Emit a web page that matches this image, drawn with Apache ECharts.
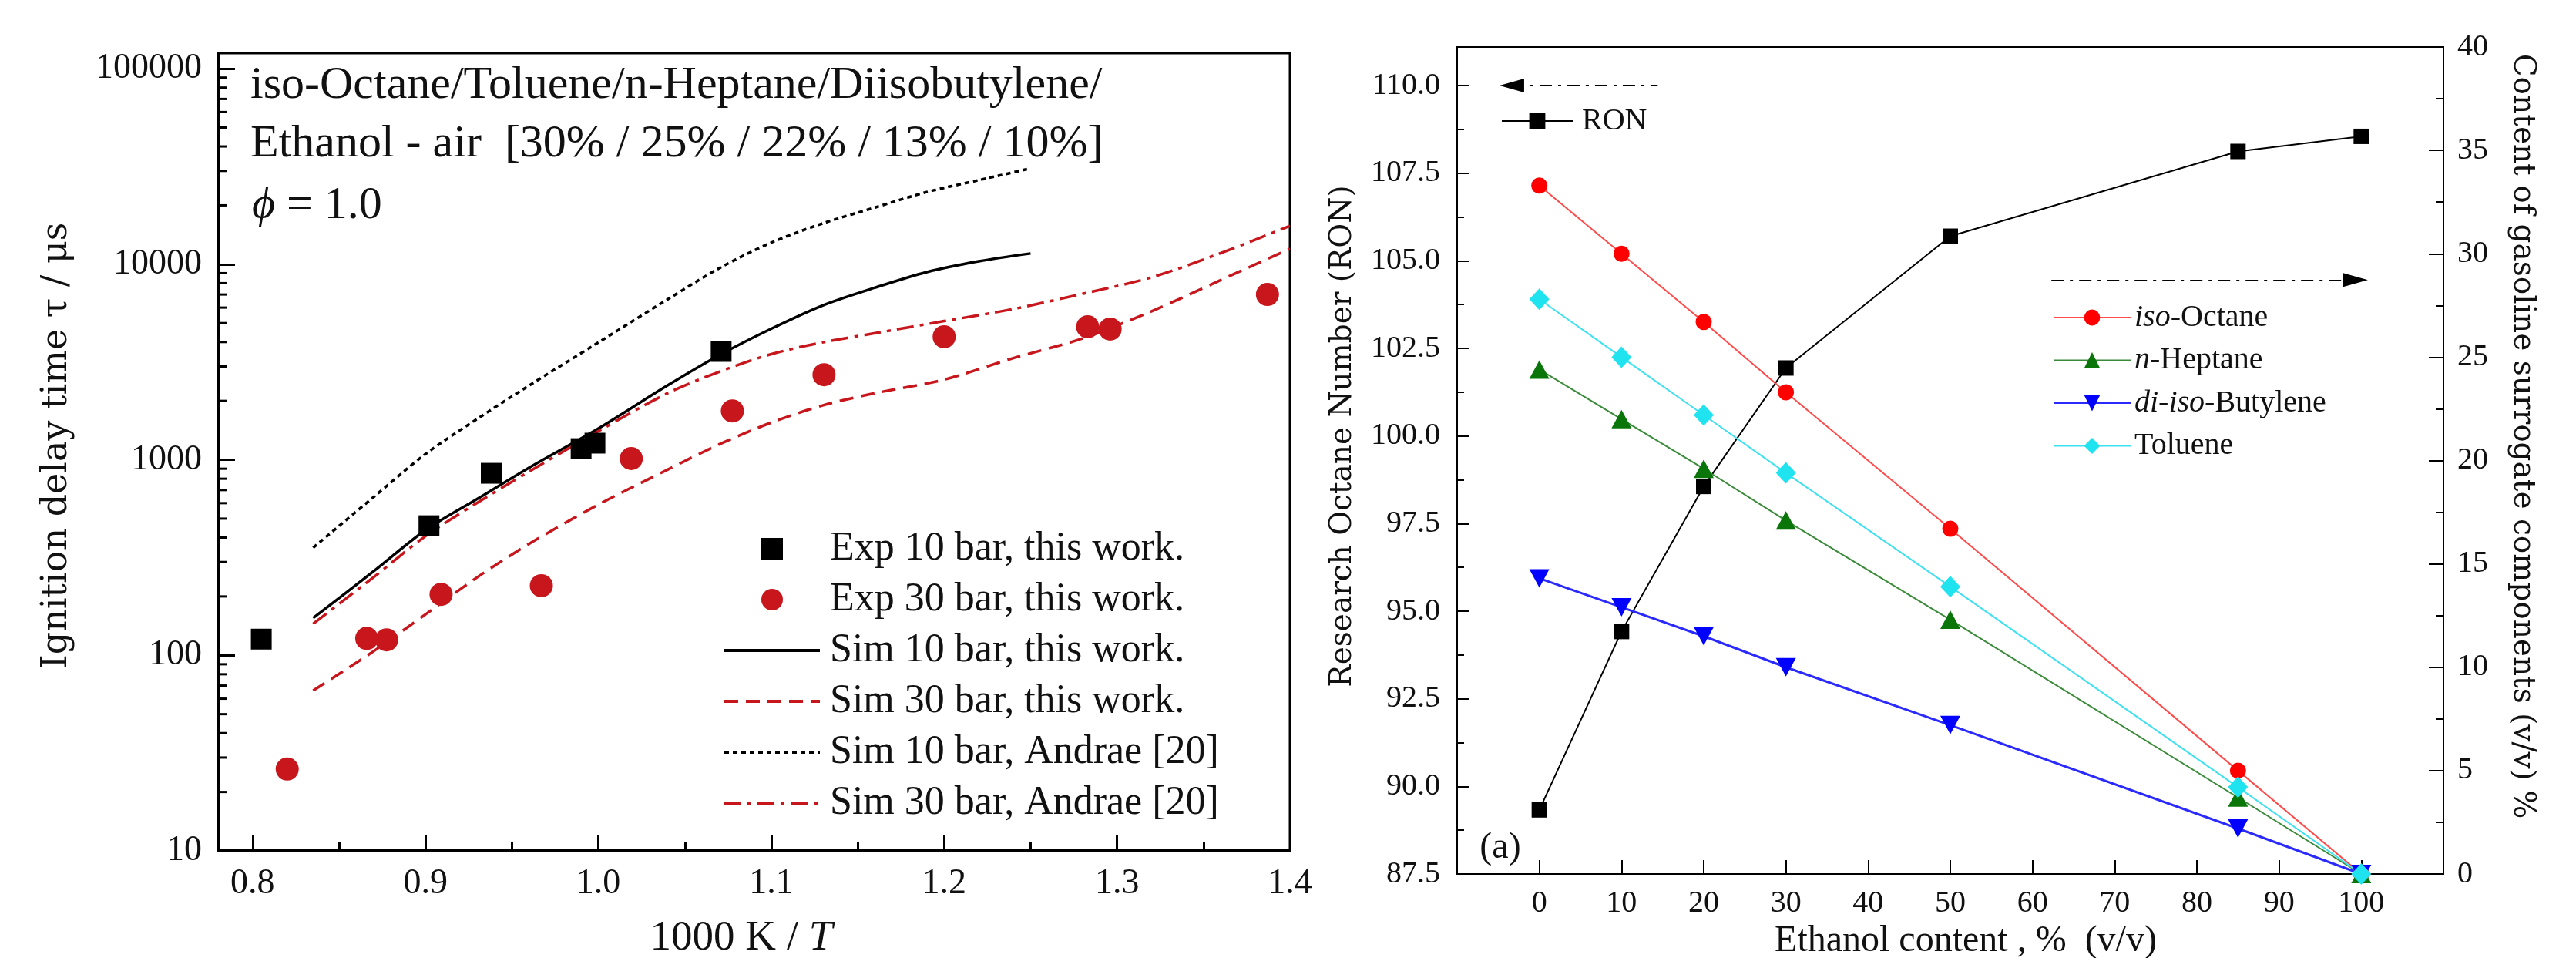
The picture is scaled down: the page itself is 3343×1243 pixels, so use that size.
<!DOCTYPE html>
<html>
<head>
<meta charset="utf-8">
<title>Ignition delay times / RON of ethanol blends</title>
<script src="https://cdn.jsdelivr.net/npm/echarts@6.0.0/dist/echarts.min.js"></script>
<style>
  html, body { margin: 0; padding: 0; background: #fff; }
  #chart { width: 3343px; height: 1243px; }
</style>
</head>
<body>
<div id="chart"></div>
<script>
// ---------- left panel: ignition delay time vs 1000 K / T ----------
var expTenT = [0.805, 0.902, 0.938, 0.990, 0.998, 1.071];
var expTenTau = [121, 460, 853, 1140, 1216, 3580];
var expThirtyT = [0.820, 0.866, 0.8775, 0.909, 0.967, 1.019, 1.0775, 1.1305, 1.200, 1.283, 1.296, 1.387];
var expThirtyTau = [26.2, 122, 120, 205, 227, 1014, 1778, 2723, 4255, 4786, 4660, 7000];

// simulations, 10 bar (end at 1.25)
var simTenT = [0.835, 0.87, 0.90, 0.93, 0.96, 1.00, 1.04, 1.07, 1.10, 1.13, 1.16, 1.19, 1.22, 1.25];
var simTenTau = [155, 269, 437, 631, 912, 1445, 2400, 3430, 4680, 6170, 7590, 9120, 10350, 11350];
var andraeTenTau = [355, 645, 1070, 1620, 2400, 3980, 6610, 9550, 12900, 16200, 19500, 23400, 26900, 30900];

// simulations, 30 bar (run to 1.4)
var simThirtyT = [0.835, 0.87, 0.90, 0.93, 0.96, 1.00, 1.04, 1.07, 1.10, 1.13, 1.16, 1.20, 1.24, 1.28, 1.32, 1.36, 1.40];
var simThirtyTau = [66, 105, 162, 251, 372, 590, 890, 1200, 1550, 1900, 2190, 2570, 3310, 4170, 5750, 8300, 12000];
var andraeThirtyTau = [145, 251, 407, 603, 871, 1400, 2190, 2820, 3470, 3990, 4440, 5120, 5900, 7060, 8570, 11400, 15700];

// log minor ticks on the tau axis
var minorTau = [20, 30, 40, 50, 60, 70, 80, 90,
                200, 300, 400, 500, 600, 700, 800, 900,
                2000, 3000, 4000, 5000, 6000, 7000, 8000, 9000,
                20000, 30000, 40000, 50000, 60000, 70000, 80000, 90000];

var T_MIN = 0.78, T_MAX = 1.4;
var TAU_MIN = 10, TAU_MAX = 120000;

// ---------- right panel: RON and surrogate composition vs ethanol ----------
var ethanol = [0, 10, 20, 30, 50, 85, 100];
var ron = [89.33, 94.42, 98.56, 101.94, 105.70, 108.12, 108.55];
var isoOctane = [33.3, 30.0, 26.7, 23.3, 16.7, 5.0, 0];
var nHeptane = [24.4, 22.0, 19.6, 17.1, 12.3, 3.7, 0];
var diisoButylene = [14.3, 12.9, 11.5, 10.0, 7.2, 2.2, 0];
var toluene = [27.8, 25.0, 22.2, 19.4, 13.9, 4.2, 0];

// axis-pointing arrows (x = ethanol %, y = RON)
var leftArrow = [[-3.35, 110.0], [14.4, 110.0]];
var rightArrow = [[62.3, 104.45], [99.3, 104.45]];

var SERIF = '"Liberation Serif", "Times New Roman", serif';
var WIDE_SERIF = '"DejaVu Serif", serif';
var INK = '#111';
var RED = '#c8161d';
var SQUARE = 'path://M0 0H10V10H0Z';

function pairs(xs, ys) {
    return xs.map(function (x, i) { return [x, ys[i]]; });
}

var componentLabels = {
    'iso-Octane': '{i|iso}-Octane',
    'n-Heptane': '{i|n}-Heptane',
    'di-iso-Butylene': '{i|di}-{i|iso}-Butylene',
    'Toluene': 'Toluene'
};

// line-only legend entries: hide the symbol the line legend icon adds
var noMark = { opacity: 0 };

var chart = echarts.init(document.getElementById('chart'), null, { renderer: 'canvas' });

var option = {
    animation: false,
    backgroundColor: '#fff',
    textStyle: { fontFamily: SERIF, color: INK },
    grid: [
        { left: 283, top: 69, width: 1391, height: 1035, show: true, borderColor: '#000', borderWidth: 3, outerBoundsMode: 'none' },
        { left: 1891, top: 61, width: 1280, height: 1073, show: true, borderColor: '#000', borderWidth: 2, outerBoundsMode: 'none' }
    ],
    xAxis: [
        {
            gridIndex: 0, type: 'value', min: T_MIN, max: T_MAX, splitNumber: 6,
            axisLine: { onZero: false, lineStyle: { color: '#000', width: 4 } },
            axisTick: { inside: true, length: 20, lineStyle: { color: '#000', width: 3 } },
            minorTick: { show: true, splitNumber: 2, length: 11, lineStyle: { color: '#000', width: 3 } },
            splitLine: { show: false },
            axisLabel: {
                margin: 20, fontFamily: SERIF, fontSize: 46, color: INK, showMinLabel: false,
                formatter: function (v) { return v.toFixed(1); }
            },
            name: '1000 K / {i|T}', nameLocation: 'middle', nameGap: 86,
            nameTextStyle: {
                fontFamily: SERIF, fontSize: 55, color: INK, padding: [0, 33, 0, 0],
                rich: { i: { fontFamily: SERIF, fontSize: 55, fontStyle: 'italic', color: INK } }
            }
        },
        {
            gridIndex: 1, type: 'value', min: -10, max: 110, interval: 10,
            axisLine: { onZero: false, lineStyle: { color: '#000', width: 2 } },
            axisTick: { inside: true, length: 18, lineStyle: { color: '#000', width: 2 } },
            splitLine: { show: false },
            axisLabel: { margin: 18, fontFamily: SERIF, fontSize: 40, color: INK, showMinLabel: false, showMaxLabel: false },
            name: 'Ethanol content , %  (v/v)', nameLocation: 'middle', nameGap: 61,
            nameTextStyle: { fontFamily: SERIF, fontSize: 48, color: INK, padding: [0, 0, 0, 40] }
        }
    ],
    yAxis: [
        {
            gridIndex: 0, type: 'log', logBase: 10, min: TAU_MIN, max: TAU_MAX,
            axisLine: { onZero: false, lineStyle: { color: '#000', width: 4 } },
            axisTick: { inside: true, length: 22, lineStyle: { color: '#000', width: 3 } },
            splitLine: { show: false },
            axisLabel: {
                margin: 21, fontFamily: SERIF, fontSize: 46, color: INK, showMaxLabel: false,
                formatter: function (v) { return String(Math.round(v)); }
            },
            name: 'Ignition delay time \u03c4 / \u03bcs', nameLocation: 'middle', nameGap: 186,
            nameTextStyle: { fontFamily: WIDE_SERIF, fontSize: 46, color: INK, padding: [0, 0, 0, 17] }
        },
        {
            gridIndex: 1, type: 'value', position: 'left', min: 87.5, max: 111.1, interval: 2.5,
            axisLine: { onZero: false, lineStyle: { color: '#000', width: 2 } },
            axisTick: { inside: true, length: 16, lineStyle: { color: '#000', width: 2 } },
            minorTick: { show: true, splitNumber: 2, length: 9, lineStyle: { color: '#000', width: 2 } },
            splitLine: { show: false },
            axisLabel: {
                margin: 22, fontFamily: SERIF, fontSize: 40, color: INK, showMaxLabel: false,
                formatter: function (v) { return v.toFixed(1); }
            },
            name: 'Research Octane Number (RON)', nameLocation: 'middle', nameGap: 129,
            nameTextStyle: { fontFamily: WIDE_SERIF, fontSize: 39, color: INK, padding: [0, 0, 0, 63] }
        },
        {
            gridIndex: 1, type: 'value', position: 'right', min: 0, max: 40, interval: 5,
            axisLine: { onZero: false, lineStyle: { color: '#000', width: 2 } },
            axisTick: { inside: true, length: 19, lineStyle: { color: '#000', width: 2 } },
            minorTick: { show: true, splitNumber: 2, length: 10, lineStyle: { color: '#000', width: 2 } },
            splitLine: { show: false },
            axisLabel: { margin: 18, fontFamily: SERIF, fontSize: 40, color: INK },
            name: 'Content of gasoline surrogate components (v/v) %', nameLocation: 'middle', nameGap: 83, nameRotate: -90,
            nameTextStyle: { fontFamily: WIDE_SERIF, fontSize: 39, color: INK, padding: [0, 63, 0, 0] }
        }
    ],
    legend: [
        {
            orient: 'vertical', left: 938, top: 686, itemWidth: 124, itemHeight: 28, itemGap: 14, padding: 0,
            selectedMode: false, symbolKeepAspect: true,
            lineStyle: { width: 4 },
            data: [
                { name: 'Exp 10 bar, this work.', icon: SQUARE },
                { name: 'Exp 30 bar, this work.', icon: 'circle' },
                { name: 'Sim 10 bar, this work.', itemStyle: noMark },
                { name: 'Sim 30 bar, this work.', itemStyle: noMark },
                { name: 'Sim 10 bar, Andrae [20]', itemStyle: noMark },
                { name: 'Sim 30 bar, Andrae [20]', itemStyle: noMark }
            ],
            textStyle: { fontFamily: SERIF, fontSize: 52, color: INK, padding: [0, 0, 0, 8] }
        },
        {
            left: 1948, top: 137, itemWidth: 92, itemHeight: 26, padding: 0, selectedMode: false,
            lineStyle: { width: 2 },
            data: ['RON'],
            textStyle: { fontFamily: SERIF, fontSize: 40, color: INK, padding: [0, 0, 0, 7] }
        },
        {
            orient: 'vertical', left: 2664, top: 392, itemWidth: 100, itemHeight: 26, itemGap: 15.5, padding: 0,
            selectedMode: false,
            lineStyle: { width: 2 },
            data: ['iso-Octane', 'n-Heptane', 'di-iso-Butylene', 'Toluene'],
            formatter: function (name) { return componentLabels[name]; },
            textStyle: {
                fontFamily: SERIF, fontSize: 40, color: INK,
                rich: { i: { fontFamily: SERIF, fontSize: 40, fontStyle: 'italic', color: INK } }
            }
        }
    ],
    graphic: [
        { type: 'text', x: 325, y: 111, style: { text: 'iso-Octane/Toluene/n-Heptane/Diisobutylene/', fontFamily: SERIF, fontSize: 60, fill: INK, verticalAlign: 'middle' } },
        { type: 'text', x: 325, y: 187, style: { text: 'Ethanol - air  [30% / 25% / 22% / 13% / 10%]', fontFamily: SERIF, fontSize: 60, fill: INK, verticalAlign: 'middle' } },
        { type: 'text', x: 327, y: 267, style: {
            text: '{i|\u03d5} = 1.0', fontFamily: SERIF, fontSize: 60, fill: INK, verticalAlign: 'middle',
            rich: { i: { fontFamily: SERIF, fontSize: 58, fontStyle: 'italic', fill: INK } }
        } },
        { type: 'text', x: 1947, y: 1100, style: { text: '(a)', fontFamily: SERIF, fontSize: 48, fill: INK, align: 'center', verticalAlign: 'middle' } }
    ],
    series: [
        {
            name: 'Sim 10 bar, this work.', type: 'line', xAxisIndex: 0, yAxisIndex: 0,
            data: pairs(simTenT, simTenTau), symbol: 'none', smooth: 0.3,
            lineStyle: { color: '#000', width: 3.5, type: 'solid' }, itemStyle: { color: '#000' }, z: 2
        },
        {
            name: 'Sim 30 bar, this work.', type: 'line', xAxisIndex: 0, yAxisIndex: 0,
            data: pairs(simThirtyT, simThirtyTau), symbol: 'none', smooth: 0.3,
            lineStyle: { color: RED, width: 3.5, type: [18, 10] }, itemStyle: { color: RED }, z: 2
        },
        {
            name: 'Sim 10 bar, Andrae [20]', type: 'line', xAxisIndex: 0, yAxisIndex: 0,
            data: pairs(simTenT, andraeTenTau), symbol: 'none', smooth: 0.3,
            lineStyle: { color: '#000', width: 3.5, type: [6, 5] }, itemStyle: { color: '#000' }, z: 2
        },
        {
            name: 'Sim 30 bar, Andrae [20]', type: 'line', xAxisIndex: 0, yAxisIndex: 0,
            data: pairs(simThirtyT, andraeThirtyTau), symbol: 'none', smooth: 0.3,
            lineStyle: { color: RED, width: 3.5, type: [22, 8, 5, 8] }, itemStyle: { color: RED }, z: 2
        },
        {
            name: 'Exp 10 bar, this work.', type: 'scatter', xAxisIndex: 0, yAxisIndex: 0,
            data: pairs(expTenT, expTenTau), symbol: 'rect', symbolSize: 27,
            itemStyle: { color: '#000', opacity: 1 }, z: 5
        },
        {
            name: 'Exp 30 bar, this work.', type: 'scatter', xAxisIndex: 0, yAxisIndex: 0,
            data: pairs(expThirtyT, expThirtyTau), symbol: 'circle', symbolSize: 30,
            itemStyle: { color: RED, opacity: 1 }, z: 5
        },
        {
            // log-spaced minor ticks on the tau axis
            type: 'custom', xAxisIndex: 0, yAxisIndex: 0, silent: true, clip: false, z: 10,
            data: minorTau.map(function (v) { return [T_MIN, v]; }),
            renderItem: function (params, api) {
                var pt = api.coord([api.value(0), api.value(1)]);
                return {
                    type: 'line',
                    shape: { x1: pt[0], y1: pt[1], x2: pt[0] + 12, y2: pt[1] },
                    style: { stroke: '#000', lineWidth: 3 }
                };
            }
        },
        {
            name: 'RON', type: 'line', xAxisIndex: 1, yAxisIndex: 1,
            data: pairs(ethanol, ron), symbol: 'rect', symbolSize: 20,
            lineStyle: { color: '#000', width: 2 }, itemStyle: { color: '#000' }, z: 3,
            markLine: {
                silent: true, animation: false, symbol: ['none', 'none'], label: { show: false },
                emphasis: { disabled: true },
                lineStyle: { color: '#000', width: 2, type: [16, 8, 4, 8] },
                data: [
                    [{ coord: leftArrow[0], symbol: 'triangle', symbolSize: [18, 32] }, { coord: leftArrow[1], symbol: 'none' }],
                    [{ coord: rightArrow[0], symbol: 'none' }, { coord: rightArrow[1], symbol: 'triangle', symbolSize: [18, 32] }]
                ]
            }
        },
        {
            name: 'iso-Octane', type: 'line', xAxisIndex: 1, yAxisIndex: 2,
            data: pairs(ethanol, isoOctane), symbol: 'circle', symbolSize: 21,
            lineStyle: { color: '#ff4a4a', width: 2 }, itemStyle: { color: '#ff0000' }, z: 3
        },
        {
            name: 'n-Heptane', type: 'line', xAxisIndex: 1, yAxisIndex: 2,
            data: pairs(ethanol, nHeptane), symbol: 'triangle', symbolSize: [26, 24],
            lineStyle: { color: '#3a8a3a', width: 2 }, itemStyle: { color: '#0a760a' }, z: 3
        },
        {
            name: 'di-iso-Butylene', type: 'line', xAxisIndex: 1, yAxisIndex: 2,
            data: pairs(ethanol, diisoButylene), symbol: 'triangle', symbolRotate: 180, symbolSize: [26, 24],
            lineStyle: { color: '#2a2aff', width: 3 }, itemStyle: { color: '#0000ff' }, z: 3
        },
        {
            name: 'Toluene', type: 'line', xAxisIndex: 1, yAxisIndex: 2,
            data: pairs(ethanol, toluene), symbol: 'diamond', symbolSize: [26, 28],
            lineStyle: { color: '#3fe0f0', width: 2 }, itemStyle: { color: '#1fe3ee' }, z: 3
        }
    ]
};

chart.setOption(option);
</script>
</body>
</html>
